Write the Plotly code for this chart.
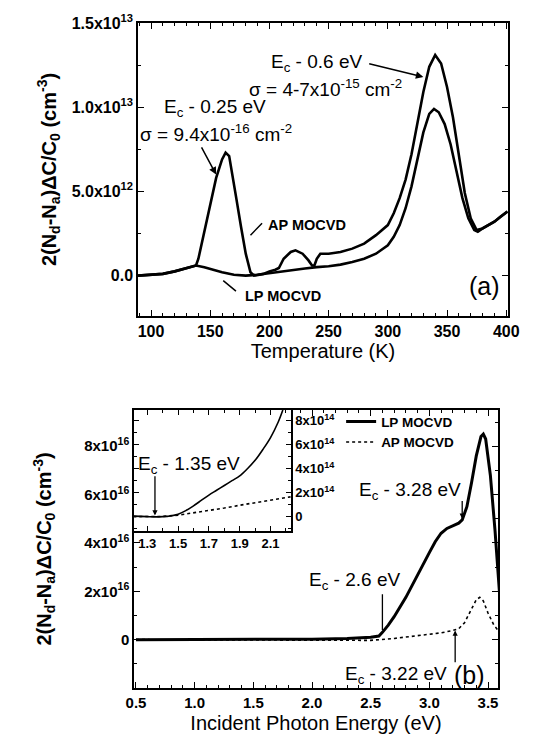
import numpy as np
import plotly.graph_objects as go

# ---------------- panel (a): DLTS spectra ----------------
temp_ap = [89, 100, 110, 120, 130, 135, 138, 140, 145, 150, 155, 160, 163, 166, 168, 172, 176, 180,
           184, 187, 195, 200, 205, 208, 212, 218, 222, 228, 233, 236, 238, 240, 243, 250, 260, 270,
           280, 290, 300, 305, 310, 315, 320, 325, 330, 335, 340, 345, 350, 355, 360, 365, 370, 375,
           380, 385, 390, 395, 401]
ap_a = [0.0, 0.05, 0.1, 0.25, 0.45, 0.55, 0.6, 1.0, 2.6, 4.3, 5.8, 6.9, 7.3, 7.1, 6.2, 4.6, 2.9, 1.3,
        0.2, 0.0, 0.1, 0.25, 0.35, 0.45, 1.0, 1.4, 1.5, 1.3, 0.9, 0.6, 0.6, 1.0, 1.3, 1.3, 1.4, 1.6,
        1.9, 2.4, 3.0, 3.7, 4.6, 5.7, 7.2, 9.0, 10.9, 12.4, 13.1, 12.6, 11.2, 9.4, 7.0, 4.9, 3.4, 2.7,
        2.8, 3.0, 3.2, 3.5, 3.8]

temp_lp = [89, 100, 110, 120, 130, 138, 145, 150, 160, 170, 180, 190, 200, 210, 220, 230, 240, 250,
           260, 270, 280, 290, 300, 305, 310, 315, 320, 325, 330, 335, 339, 343, 348, 353, 358, 363,
           368, 373, 376, 380, 390, 401]
lp_a = [0.0, 0.05, 0.1, 0.25, 0.45, 0.6, 0.5, 0.4, 0.2, 0.05, 0.0, 0.05, 0.15, 0.25, 0.35, 0.42, 0.5,
        0.55, 0.65, 0.8, 1.0, 1.3, 1.8, 2.3, 3.0, 4.0, 5.3, 6.9, 8.5, 9.6, 9.9, 9.7, 9.0, 7.8, 6.2,
        4.6, 3.4, 2.7, 2.6, 2.8, 3.2, 3.8]

# ---------------- panel (b): photocapacitance spectra ----------------
energy_lp = [0.5, 1.0, 1.5, 2.0, 2.3, 2.5, 2.57, 2.6, 2.65, 2.7, 2.8, 2.9, 3.0, 3.05, 3.1, 3.15, 3.2,
             3.25, 3.28, 3.32, 3.36, 3.4, 3.44, 3.46, 3.48, 3.52, 3.56, 3.6]
lp_b = [0.0, 0.0, 0.0, 0.02, 0.05, 0.1, 0.15, 0.3, 0.6, 0.95, 1.75, 2.7, 3.6, 4.05, 4.4, 4.6, 4.72,
        4.82, 4.95, 5.5, 6.5, 7.6, 8.4, 8.5, 8.3, 6.8, 4.5, 1.8]

energy_ap = [0.5, 1.0, 1.5, 2.0, 2.2, 2.5, 2.7, 2.9, 3.1, 3.2, 3.25, 3.3, 3.35, 3.4, 3.43, 3.46, 3.5,
             3.55, 3.6]
ap_b = [0.0, 0.0, 0.0, 0.0, 0.0, -0.03, 0.05, 0.15, 0.28, 0.38, 0.45, 0.7, 1.2, 1.65, 1.75, 1.6,
        1.1, 0.6, 0.3]

# inset (units of 1e14)
energy_in_lp = [1.21, 1.3, 1.35, 1.4, 1.45, 1.5, 1.55, 1.6, 1.65, 1.7, 1.75, 1.8, 1.85, 1.9, 1.95,
                2.0, 2.05, 2.1, 2.15, 2.18]
lp_in = [0.05, 0.0, -0.02, 0.0, 0.06, 0.2, 0.5, 0.9, 1.35, 1.8, 2.2, 2.6, 3.0, 3.4, 4.0, 4.7,
         5.6, 6.6, 7.9, 8.9]
energy_in_ap = [1.21, 1.3, 1.4, 1.5, 1.6, 1.7, 1.8, 1.9, 2.0, 2.1, 2.23]
ap_in = [0.0, 0.0, 0.02, 0.12, 0.3, 0.5, 0.72, 0.95, 1.15, 1.38, 1.65]

# tick labels
a_yticks = [0, 5e12, 1e13, 1.5e13]
a_yticktext = ["0.0", "5.0x10<sup>12</sup>", "1.0x10<sup>13</sup>", "1.5x10<sup>13</sup>"]
a_xticks = [100, 150, 200, 250, 300, 350, 400]
b_yticks = [0, 2e16, 4e16, 6e16, 8e16]
b_yticktext = ["0", "2x10<sup>16</sup>", "4x10<sup>16</sup>", "6x10<sup>16</sup>", "8x10<sup>16</sup>"]
b_xticks = [0.5, 1.0, 1.5, 2.0, 2.5, 3.0, 3.5]
b_xticktext = ["0.5", "1.0", "1.5", "2.0", "2.5", "3.0", "3.5"]
in_yticks = [0, 2e14, 4e14, 6e14, 8e14]
in_yticktext = ["0", "2x10<sup>14</sup>", "4x10<sup>14</sup>", "6x10<sup>14</sup>", "8x10<sup>14</sup>"]
in_xticks = [1.3, 1.5, 1.7, 1.9, 2.1]

FONT = "Liberation Sans, Arial, sans-serif"
ytitle = "2(N<sub>d</sub>-N<sub>a</sub>)ΔC/C<sub>0</sub> (cm<sup>-3</sup>)"


def tf(size):
    return dict(family=FONT, size=size, color="black", weight="bold")


def minor(d):
    return dict(ticks="inside", ticklen=3, tickwidth=1.2, tickcolor="black", tick0=0, dtick=d)


def base(size, ticklen=6):
    return dict(showline=True, linecolor="black", linewidth=1.5, mirror="ticks",
                ticks="inside", ticklen=ticklen, tickwidth=1.3, tickcolor="black",
                showgrid=False, zeroline=False, automargin=False, tickfont=tf(size))


fig = go.Figure()
fig.add_trace(go.Scatter(x=temp_ap, y=np.array(ap_a) * 1e12, mode="lines",
                         line=dict(color="black", width=2.6), showlegend=False,
                         xaxis="x", yaxis="y"))
fig.add_trace(go.Scatter(x=temp_lp, y=np.array(lp_a) * 1e12, mode="lines",
                         line=dict(color="black", width=2.6), showlegend=False,
                         xaxis="x", yaxis="y"))
fig.add_trace(go.Scatter(x=energy_lp, y=np.array(lp_b) * 1e16, mode="lines", name="LP MOCVD",
                         line=dict(color="black", width=3), xaxis="x2", yaxis="y2"))
fig.add_trace(go.Scatter(x=energy_ap, y=np.array(ap_b) * 1e16, mode="lines", name="AP MOCVD",
                         line=dict(color="black", width=1.6, dash="dot"), xaxis="x2", yaxis="y2"))
fig.add_trace(go.Scatter(x=energy_in_lp, y=np.array(lp_in) * 1e14, mode="lines",
                         line=dict(color="black", width=1.6, shape="spline"), showlegend=False,
                         xaxis="x3", yaxis="y3"))
fig.add_trace(go.Scatter(x=energy_in_ap, y=np.array(ap_in) * 1e14, mode="lines",
                         line=dict(color="black", width=1.6, dash="dot"), showlegend=False,
                         xaxis="x3", yaxis="y3"))

fig.update_layout(
    width=533, height=740,
    margin=dict(l=0, r=0, t=0, b=0, autoexpand=False),
    paper_bgcolor="white", plot_bgcolor="white",
    font=dict(family=FONT, color="black"),
    xaxis=dict(domain=[0.2439, 0.9381], anchor="y", range=[89, 401.5],
               tickmode="array", tickvals=a_xticks, minor=minor(10),
               title=dict(text="Temperature (K)", font=dict(size=20, family=FONT), standoff=4),
               **base(16)),
    yaxis=dict(domain=[0.5838, 0.9797], anchor="x", range=[-2.4e12, 1.5e13],
               tickmode="array", tickvals=a_yticks, ticktext=a_yticktext, minor=minor(2.5e12),
               title=dict(text=ytitle, font=dict(size=20, family=FONT, weight="bold"), standoff=10),
               **base(16)),
    xaxis2=dict(domain=[0.2364, 0.9193], anchor="y2", range=[0.483, 3.585],
                tickmode="array", tickvals=b_xticks, ticktext=b_xticktext, minor=minor(0.1),
                title=dict(text="Incident Photon Energy (eV)", font=dict(size=20, family=FONT),
                           standoff=6),
                **base(15)),
    yaxis2=dict(domain=[0.0811, 0.4568], anchor="x2", range=[-2e16, 9.5e16],
                tickmode="array", tickvals=b_yticks, ticktext=b_yticktext, minor=minor(1e16),
                title=dict(text=ytitle, font=dict(size=20, family=FONT, weight="bold"), standoff=27),
                **base(15)),
    xaxis3=dict(domain=[0.2364, 0.531], anchor="y3", range=[1.214, 2.233],
                tickmode="array", tickvals=in_xticks, minor=minor(0.1),
                **base(13, 5)),
    yaxis3=dict(domain=[0.2932, 0.4568], anchor="x3", side="right", range=[-1.2e14, 8.9e14],
                tickmode="array", tickvals=in_yticks, ticktext=in_yticktext, minor=minor(1e14),
                **base(13, 5)),
    legend=dict(x=0.625, y=0.462, xanchor="left", yanchor="top", bgcolor="rgba(0,0,0,0)",
                font=tf(13.5), tracegroupgap=0, itemwidth=30),
)

ann_font = dict(family=FONT, size=19, color="black")
lab_font = tf(14.5)
annotations = [
    # panel (a)
    dict(x=240, y=12.62e12, xref="x", yref="y", text="E<sub>c</sub> - 0.6 eV", showarrow=False, font=ann_font),
    dict(x=247, y=11.14e12, xref="x", yref="y", text="σ = 4-7x10<sup>-15</sup> cm<sup>-2</sup>",
         showarrow=False, font=ann_font),
    dict(x=330, y=11.8e12, ax=283, ay=12.6e12, xref="x", yref="y", axref="x", ayref="y", text="",
         showarrow=True, arrowhead=2, arrowsize=1, arrowwidth=1.5, arrowcolor="black"),
    dict(x=154, y=9.95e12, xref="x", yref="y", text="E<sub>c</sub> - 0.25 eV", showarrow=False, font=ann_font),
    dict(x=155, y=8.46e12, xref="x", yref="y", text="σ = 9.4x10<sup>-16</sup> cm<sup>-2</sup>",
         showarrow=False, font=ann_font),
    dict(x=155, y=6.0e12, ax=142, ay=7.7e12, xref="x", yref="y", axref="x", ayref="y", text="",
         showarrow=True, arrowhead=2, arrowsize=1, arrowwidth=1.5, arrowcolor="black"),
    dict(x=197, y=3.0e12, xref="x", yref="y", text="AP MOCVD", showarrow=False, xanchor="left",
         font=lab_font),
    dict(x=184, y=2.4e12, ax=195, ay=3.2e12, xref="x", yref="y", axref="x", ayref="y", text="",
         showarrow=True, arrowhead=0, arrowwidth=1.5, arrowcolor="black"),
    dict(x=178, y=-1.23e12, xref="x", yref="y", text="LP MOCVD", showarrow=False, xanchor="left",
         font=lab_font),
    dict(x=161, y=-0.3e12, ax=173, ay=-1.0e12, xref="x", yref="y", axref="x", ayref="y", text="",
         showarrow=True, arrowhead=0, arrowwidth=1.5, arrowcolor="black"),
    dict(x=382, y=-0.62e12, xref="x", yref="y", text="(a)", showarrow=False,
         font=dict(family=FONT, size=25, color="black")),
    # panel (b)
    dict(x=2.834, y=6.14e16, xref="x2", yref="y2", text="E<sub>c</sub> - 3.28 eV", showarrow=False, font=ann_font),
    dict(x=3.28, y=5.0e16, ax=3.28, ay=5.8e16, xref="x2", yref="y2", axref="x2", ayref="y2", text="",
         showarrow=True, arrowhead=2, arrowsize=0.8, arrowwidth=1.3, arrowcolor="black"),
    dict(x=2.365, y=2.43e16, xref="x2", yref="y2", text="E<sub>c</sub> - 2.6 eV", showarrow=False, font=ann_font),
    dict(x=2.6, y=0.4e16, ax=2.6, ay=1.94e16, xref="x2", yref="y2", axref="x2", ayref="y2", text="",
         showarrow=True, arrowhead=0, arrowwidth=1.3, arrowcolor="black"),
    dict(x=2.72, y=-1.48e16, xref="x2", yref="y2", text="E<sub>c</sub> - 3.22 eV", showarrow=False, font=ann_font),
    dict(x=3.22, y=0.38e16, ax=3.22, ay=-1.0e16, xref="x2", yref="y2", axref="x2", ayref="y2", text="",
         showarrow=True, arrowhead=2, arrowsize=0.8, arrowwidth=1.3, arrowcolor="black"),
    dict(x=3.34, y=-1.48e16, xref="x2", yref="y2", text="(b)", showarrow=False,
         font=dict(family=FONT, size=25, color="black")),
    # inset
    dict(x=1.572, y=4.33e14, xref="x3", yref="y3", text="E<sub>c</sub> - 1.35 eV", showarrow=False, font=ann_font),
    dict(x=1.35, y=0.1e14, ax=1.35, ay=3.5e14, xref="x3", yref="y3", axref="x3", ayref="y3", text="",
         showarrow=True, arrowhead=2, arrowsize=0.8, arrowwidth=1.3, arrowcolor="black"),
]
fig.update_layout(annotations=annotations)

fig.write_html("out.html")
